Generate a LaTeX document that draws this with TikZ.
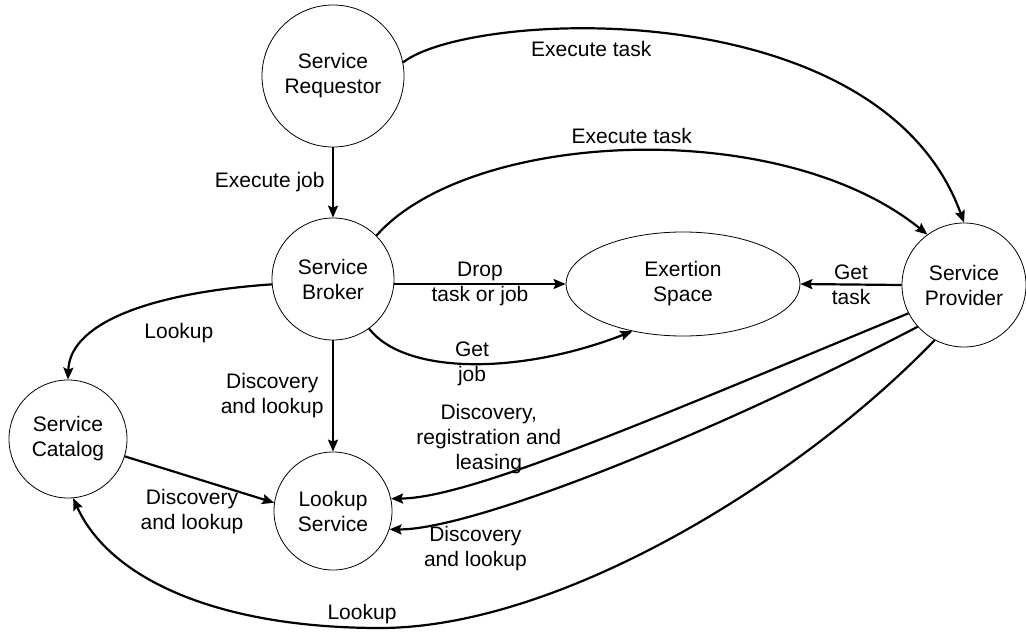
\documentclass[tikz,border=0pt]{standalone}
\usepackage{fontspec}
\setmainfont{Liberation Sans}
\usetikzlibrary{arrows.meta,shapes}

\begin{document}
\begin{tikzpicture}[
  x=1pt, y=-1pt,                            % pixel-like grid, y grows downwards
  font=\fontsize{21}{25}\selectfont,
  actor/.style    = {circle,
                     draw,
                     line width=0.8pt,
                     align=center,
                     inner sep=0pt},
  spacenode/.style = {ellipse,
                     draw,
                     line width=0.8pt,
                     align=center,
                     minimum width=234pt,
                     minimum height=104pt,
                     inner sep=0pt},
  lbl/.style      = {align=center},
  arrow/.style    = {-{Stealth[length=12pt,width=10pt,inset=2pt]}, line width=2.2pt}
]
\useasboundingbox (0,0) rectangle (1026,632);

\node[actor, minimum size=142pt] (req)    at (333,76)  {Service\\Requestor};
\node[actor, minimum size=122pt] (broker) at (333,279) {Service\\Broker};
\node[spacenode]                 (space)  at (683,284) {Exertion\\Space};
\node[actor, minimum size=124pt] (prov)   at (964,285) {Service\\Provider};
\node[actor, minimum size=118pt] (cat)    at (68,439)  {Service\\Catalog};
\node[actor, minimum size=118pt] (lus)    at (333,511) {Lookup\\Service};

% requestor and broker
\draw[arrow] (req) -- node[left=4pt] {Execute job} (broker);
\draw[arrow] (req.11) .. controls (470,10) and (880,-10) .. node[pos=0.38, below=8pt] {Execute task} (prov.north);
\draw[arrow] (broker.45) .. controls (470,130) and (780,115) .. node[pos=0.5, above=3pt] {Execute task} (prov.126);

% exertion space
\draw[arrow] (space.west -| broker.east) -- node[lbl] {Drop\\task or job} (space.west);
\draw[arrow] (prov.west) -- node[lbl] {Get\\task} (space.east);
\draw[arrow] (broker.-54) .. controls (405,375) and (520,375) .. node[lbl, pos=0.5] {Get\\job} (space.223);

% lookups
\draw[arrow] (broker.185) .. controls (160,292) and (70,320) .. node[pos=0.3, below=22pt] {Lookup} (cat.north);
\draw[arrow] (broker) -- node[lbl, left=5pt] {Discovery\\and lookup} (lus);
\draw[arrow] (cat.-17) -- node[lbl, pos=0.45, below=8pt] {Discovery\\and lookup} (lus.172);
\draw[arrow] (prov.207) .. controls (650,420) and (470,498) .. node[lbl, pos=0.7, above] {Discovery,\\registration and\\leasing} (lus.12);
\draw[arrow] (prov.222) .. controls (700,440) and (470,530) .. node[lbl, pos=0.75, below=8pt] {Discovery\\and lookup} (lus.-18);
\draw[arrow] (prov.242) .. controls (800,480) and (560,628) .. (380,628)
  node[above, xshift=-18pt] {Lookup}
  .. controls (220,628) and (110,580) .. (cat.-85);

\end{tikzpicture}
\end{document}
